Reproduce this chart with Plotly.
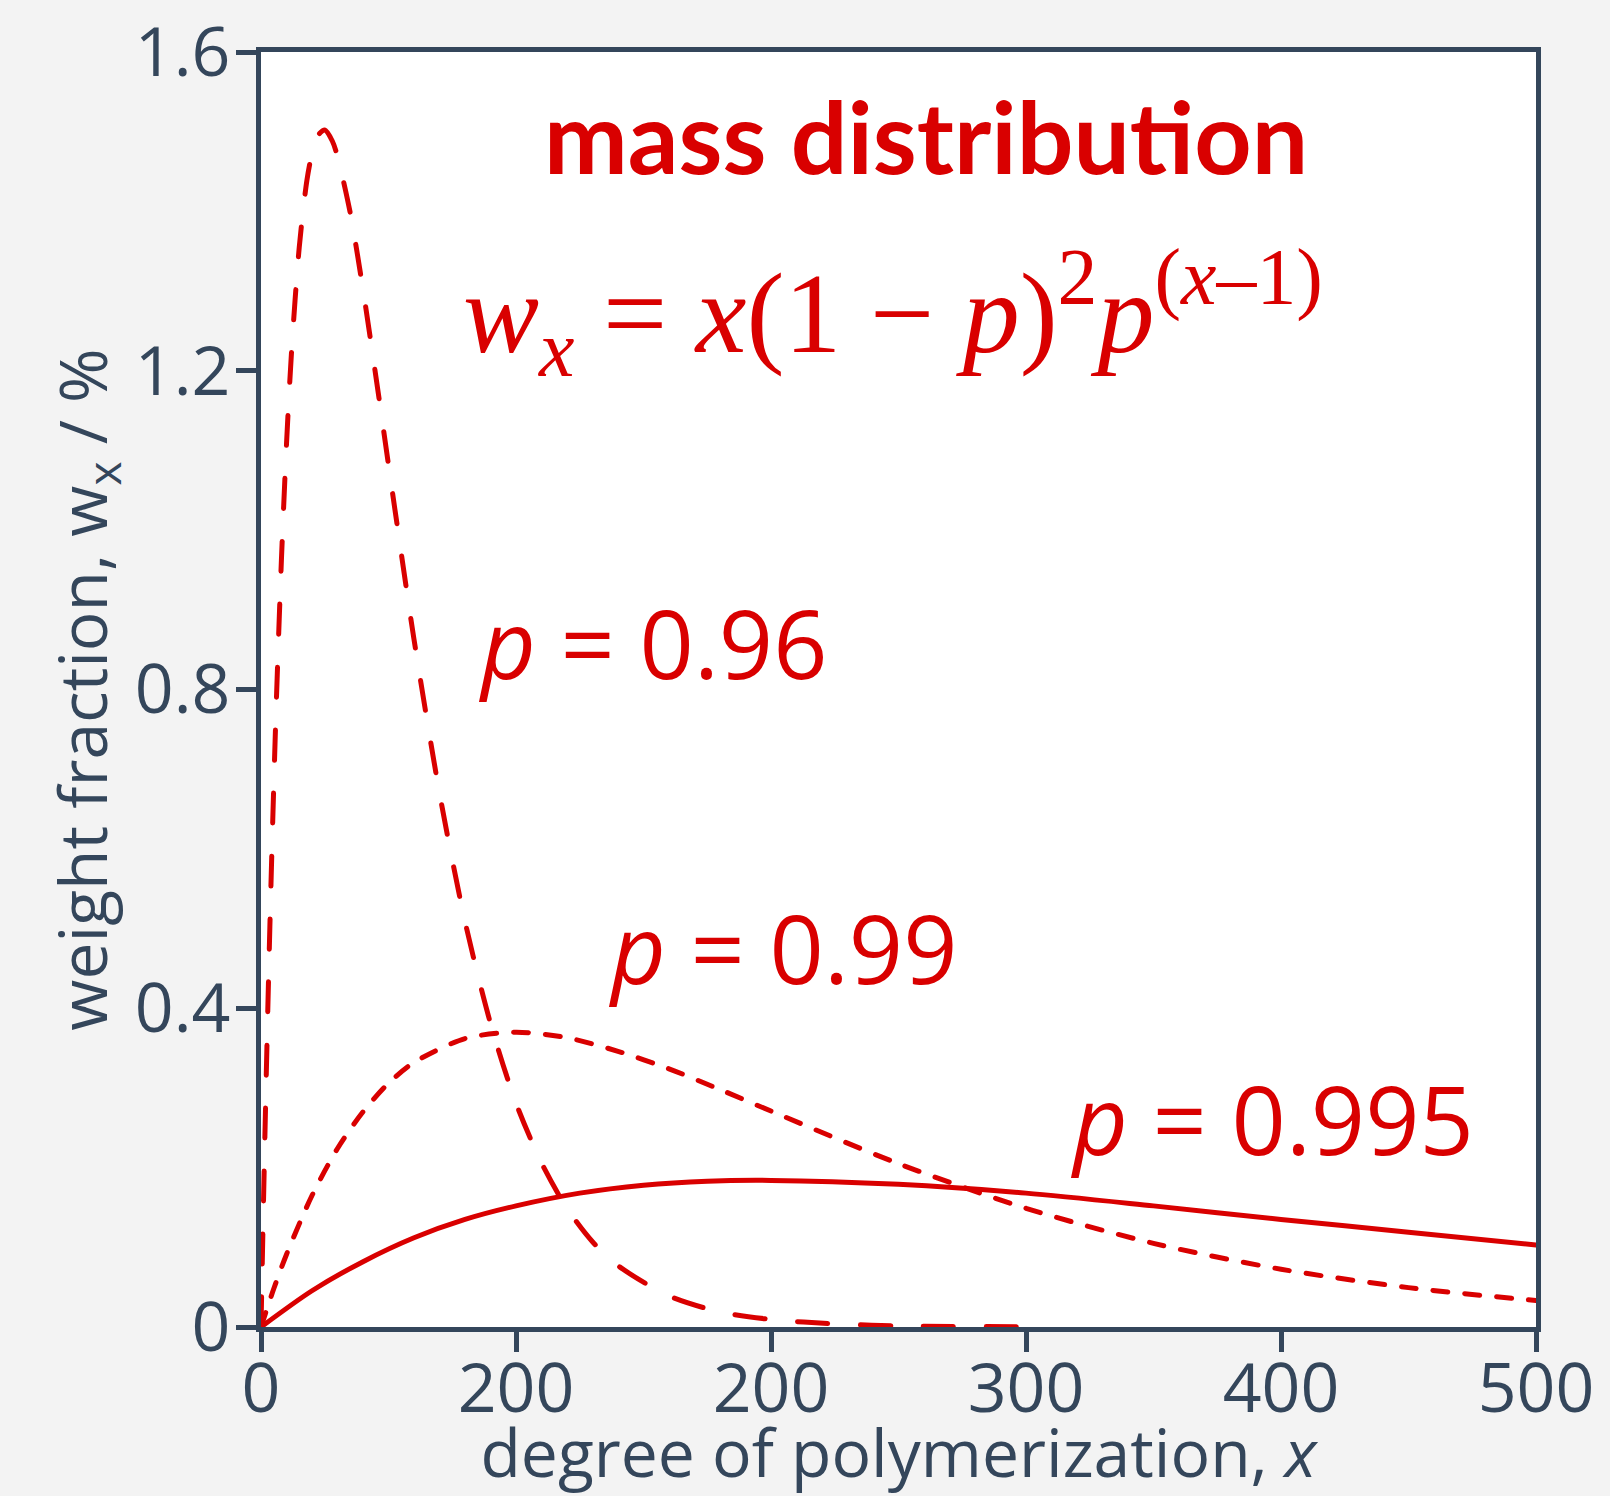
import plotly.graph_objects as go

# ---- data ----
x_096 = [0, 1, 2, 3, 4, 5, 6, 8, 10, 12, 15, 18, 20, 22, 25, 28, 30, 35, 40, 45, 50, 55,
         60, 70, 80, 90, 100, 110, 120, 130, 140, 160, 180, 200, 225, 250, 300]
w_096 = [0, 0.160, 0.307, 0.442, 0.566, 0.679, 0.783, 0.962, 1.108, 1.225, 1.355, 1.439,
         1.473, 1.494, 1.502, 1.488, 1.469, 1.398, 1.302, 1.194, 1.082, 0.971,
         0.863, 0.670, 0.509, 0.381, 0.281, 0.206, 0.149, 0.107, 0.077, 0.039, 0.019,
         0.0095, 0.0039, 0.0015, 0.0002]

x_099 = [0, 5, 10, 20, 30, 40, 50, 60, 80, 100, 120, 140, 160, 180, 200, 250, 300, 350,
         400, 450, 500]
w_099 = [0, 0.048, 0.091, 0.165, 0.224, 0.270, 0.306, 0.332, 0.362, 0.370, 0.363, 0.346,
         0.324, 0.298, 0.271, 0.205, 0.149, 0.105, 0.0725, 0.0494, 0.0332]

x_0995 = [0, 20, 40, 60, 80, 100, 125, 150, 175, 200, 250, 300, 350, 400, 450, 500]
w_0995 = [0, 0.0455, 0.082, 0.112, 0.135, 0.152, 0.168, 0.178, 0.183, 0.184, 0.179,
          0.168, 0.152, 0.135, 0.119, 0.103]

x_tickvals = [0, 100, 200, 300, 400, 500]
x_ticktext = ["0", "200", "200", "300", "400", "500"]
y_tickvals = [0, 0.4, 0.8, 1.2, 1.6]
y_ticktext = ["0", "0.4", "0.8", "1.2", "1.6"]

RED = "#d90000"
DARK = "#34465b"
BG = "#f3f3f3"
FONT = "Open Sans"

fig = go.Figure()
fig.add_trace(go.Scatter(x=x_096, y=w_096, mode="lines", name="p = 0.96",
                         line=dict(color=RED, width=5, dash="30px,33px", shape="spline", smoothing=0.8)))
fig.add_trace(go.Scatter(x=x_099, y=w_099, mode="lines", name="p = 0.99",
                         line=dict(color=RED, width=5, dash="15px,17px", shape="spline", smoothing=0.8)))
fig.add_trace(go.Scatter(x=x_0995, y=w_0995, mode="lines", name="p = 0.995",
                         line=dict(color=RED, width=5, shape="spline", smoothing=0.8)))

annotations = [
    dict(x=260.8, y=1.496, text="<b>mass distribution</b>",
         font=dict(family="Lato", size=100, color=RED)),
    dict(x=248.0, y=1.273,
         text="<i>w<sub>x</sub></i> = <i>x</i>(1 − <i>p</i>)<sup>2</sup><i>p</i><sup>(<i>x</i>–1)</sup>",
         font=dict(family="Liberation Serif", size=114, color=RED)),
    dict(x=153.6, y=0.859, text="<i>p</i> = 0.96",
         font=dict(family=FONT, size=95, color=RED)),
    dict(x=204.6, y=0.477, text="<i>p</i> = 0.99",
         font=dict(family=FONT, size=95, color=RED)),
    dict(x=396.4, y=0.2625, text="<i>p</i> = 0.995",
         font=dict(family=FONT, size=95, color=RED)),
]
for a in annotations:
    a.update(xref="x", yref="y", showarrow=False, xanchor="center", yanchor="middle")

fig.update_layout(
    width=1610, height=1496,
    margin=dict(l=261, r=74, t=52, b=169, autoexpand=False),
    paper_bgcolor=BG, plot_bgcolor="#ffffff",
    showlegend=False,
    annotations=annotations,
    font=dict(family=FONT, color=DARK),
)
fig.update_xaxes(
    range=[0, 500], tickvals=x_tickvals, ticktext=x_ticktext,
    showgrid=False, zeroline=False,
    showline=True, linecolor=DARK, linewidth=5, mirror=True,
    ticks="outside", ticklen=20, tickwidth=5, tickcolor=DARK,
    tickfont=dict(family=FONT, size=68, color=DARK), ticklabelstandoff=-22,
    title=dict(text="degree of polymerization, <i>x</i>",
               font=dict(family=FONT, size=66, color=DARK), standoff=0),
)
fig.update_yaxes(
    range=[0, 1.6], tickvals=y_tickvals, ticktext=y_ticktext,
    showgrid=False, zeroline=False,
    showline=True, linecolor=DARK, linewidth=5, mirror=True,
    ticks="outside", ticklen=20, tickwidth=5, tickcolor=DARK,
    tickfont=dict(family=FONT, size=68, color=DARK), ticklabelstandoff=-8,
    title=dict(text="weight fraction, w<sub>x</sub> / %",
               font=dict(family=FONT, size=66, color=DARK), standoff=6),
)

post = (
    "document.body.style.margin='0';"
    "document.body.style.background='%s';"
    "document.querySelectorAll('.js-line').forEach(function(p){p.style.strokeLinecap='round';});"
) % BG

fig.write_html("out.html", post_script=post, config={"displayModeBar": False})
